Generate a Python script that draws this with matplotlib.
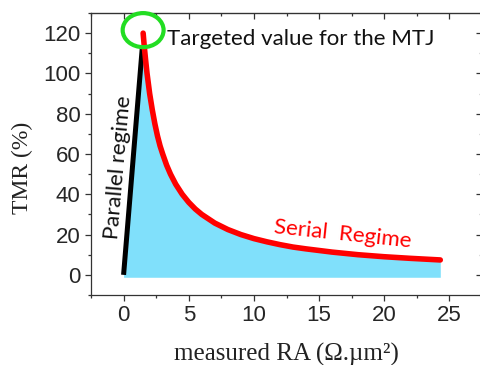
import matplotlib
matplotlib.use("Agg")
import matplotlib.pyplot as plt
from matplotlib.patches import Ellipse

plt.rcParams["font.family"] = ["Liberation Sans", "DejaVu Sans"]

# parallel regime (black straight line)
ra_par = [0.0, 1.45]
tmr_par = [0.0, 114.0]

# serial regime (red curve)
ra_ser = [1.5, 1.6, 1.7, 1.8, 2.0, 2.2, 2.4, 2.6, 2.8, 3.0, 3.3, 3.6, 4.0,
          4.5, 5.0, 5.5, 6.0, 7.0, 8.0, 9.0, 10.0, 11.0, 12.0, 13.0, 14.0,
          16.0, 18.0, 20.0, 22.0, 24.3]
tmr_ser = [120, 112.5, 106, 100, 90, 82, 75, 69, 64, 60, 54.5, 50, 45,
           40, 36, 32.7, 30, 25.7, 22.5, 20, 18, 16.4, 15, 13.8, 12.9,
           11.3, 10, 9, 8.2, 7.4]

target_ra = 1.5
target_tmr = 121.5

xticks = [0, 5, 10, 15, 20, 25]
yticks = [0, 20, 40, 60, 80, 100, 120]
xminor = [-2.5, 2.5, 7.5, 12.5, 17.5, 22.5, 27.5]
yminor = [-10, 10, 30, 50, 70, 90, 110, 130]

fig = plt.figure(figsize=(4.8, 3.65), dpi=100)
ax = fig.add_axes([91 / 480, 70 / 365, 391 / 480, 282 / 365])

# shaded area under the curves
fill_x = [ra_par[0]] + ra_ser
fill_y = [tmr_par[0]] + tmr_ser
ax.fill_between(fill_x, -1.2, fill_y, color="#80e0fb", lw=0, zorder=1)

ax.plot(ra_par, tmr_par, color="black", lw=3.6, solid_capstyle="butt", zorder=2)
ax.plot(ra_ser, tmr_ser, color="red", lw=4, solid_capstyle="round",
        solid_joinstyle="round", zorder=3)

ax.add_patch(Ellipse((target_ra, target_tmr), 3.14, 16.9, fill=False,
                     ec="#22dd22", lw=3, zorder=4, clip_on=False))

ax.set_xlim(-2.5, 27.5)
ax.set_ylim(-10, 130)
ax.set_xticks(xticks)
ax.set_yticks(yticks)
ax.set_xticks(xminor, minor=True)
ax.set_yticks(yminor, minor=True)

for s in ax.spines.values():
    s.set_linewidth(0.9)
    s.set_color("#333333")

ax.tick_params(which="major", direction="out", length=4.5, width=0.9,
               labelsize=16, pad=3, colors="#333333", labelcolor="#262626")
ax.tick_params(which="minor", direction="out", length=2.3, width=0.9,
               colors="#333333")

# mirrored ticks on top and right, pointing in
top = ax.secondary_xaxis("top")
top.set_xticks(xticks)
top.set_xticks(xminor, minor=True)
top.tick_params(which="major", direction="in", length=4.5, width=0.9, labeltop=False, colors="#333333")
top.tick_params(which="minor", direction="in", length=2.3, width=0.9, colors="#333333")
right = ax.secondary_yaxis("right")
right.set_yticks(yticks)
right.set_yticks(yminor, minor=True)
right.tick_params(which="major", direction="in", length=4.5, width=0.9, labelright=False, colors="#333333")
right.tick_params(which="minor", direction="in", length=2.3, width=0.9, colors="#bbbbbb")

ax.set_xlabel("measured RA (Ω.µm²)", fontfamily="Liberation Serif", fontsize=18, color="#222222")
ax.set_ylabel("TMR (%)", fontfamily="Liberation Serif", fontsize=17, color="#222222")
ax.xaxis.set_label_coords(0.5, -0.17)
ax.yaxis.set_label_coords(-0.148, 0.45)

ax.text(3.3, 114, "Targeted value for the MTJ", fontfamily="Lato", fontsize=16,
        color="#111111", ha="left", va="baseline")
ax.text(-0.42, 53.3, "Parallel regime", fontfamily="Lato", fontsize=16,
        color="#111111", ha="center", va="center", rotation=85,
        rotation_mode="anchor")
ax.text(16.8, 20.3, "Serial  Regime", fontfamily="Lato", fontsize=16,
        color="red", ha="center", va="center", rotation=-6,
        rotation_mode="anchor")

fig.savefig("out.png", dpi=100)
